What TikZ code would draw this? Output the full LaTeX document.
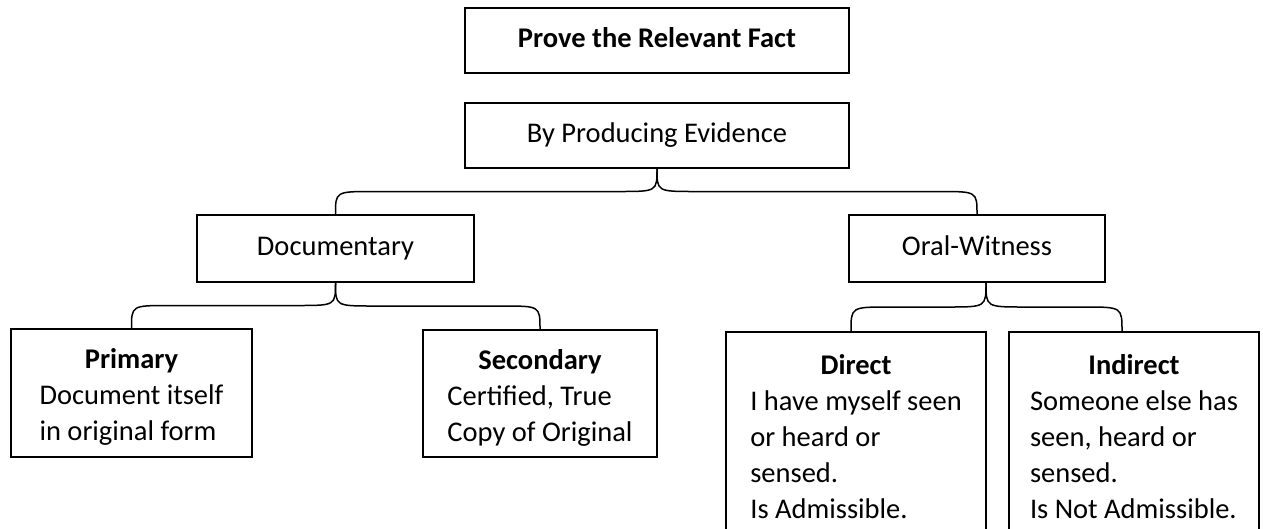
\documentclass[tikz,border=0pt]{standalone}
\usepackage{fontspec}
\setmainfont{Carlito}
\usetikzlibrary{calc}

\begin{document}
\begin{tikzpicture}[x=1pt, y=-1pt, line width=1.5pt,
    box/.style={draw, inner sep=0pt, font=\fontsize{28.5}{36}\selectfont},
    head/.style={box, text height=19pt, text depth=6pt},
    fork/.style={to path={let \p1=(\tikztostart), \p2=(\tikztotarget),
        \p3=($(\tikztostart)!.5!(\tikztotarget)$), \n1={38*sign(\x2-\x1)} in
        .. controls (\x1,\y3) .. ({\x1+\n1},\y3) -- ({\x2-\n1},\y3)
        .. controls (\x2,\y3) .. (\tikztotarget)}}]
  \clip (0,0) rectangle (1263,528);
  \node[head, minimum width=384, minimum height=65] (fact) at (657,40.5) {\bfseries Prove the Relevant Fact};
  \node[head, minimum width=384, minimum height=65] (evid) at (657,135.5) {By Producing Evidence};
  \node[head, minimum width=277, minimum height=67] (docu) at (335.5,248.5) {Documentary};
  \node[head, minimum width=256, minimum height=67] (oral) at (977,248.5) {Oral-Witness};
  \node[box, minimum width=241, minimum height=128] (prim) at (131.5,393) {%
    \raisebox{0pt}[\dimexpr\height+9pt][\depth]{\begin{tabular}{@{}l@{}}\multicolumn{1}{@{}c@{}}{\bfseries Primary}\\ Document itself\\ in original form\end{tabular}}};
  \node[box, minimum width=234, minimum height=127] (seco) at (540,393.5) {%
    \raisebox{0pt}[\dimexpr\height+9pt][\depth]{\begin{tabular}{@{}l@{}}\multicolumn{1}{@{}c@{}}{\bfseries Secondary}\\ Certified, True\\ Copy of Original\end{tabular}}};
  \node[box, minimum width=260, minimum height=208] (dire) at (856,436) {%
    \raisebox{0pt}[\dimexpr\height+6pt][\depth]{\begin{tabular}{@{}l@{}}\multicolumn{1}{@{}c@{}}{\bfseries Direct}\\ I have myself seen\\ or heard or\\ sensed.\\ Is Admissible.\end{tabular}}};
  \node[box, minimum width=250, minimum height=208] (indi) at (1134,436) {%
    \raisebox{0pt}[\dimexpr\height+6pt][\depth]{\begin{tabular}{@{}l@{}}\multicolumn{1}{@{}c@{}}{\bfseries Indirect}\\ Someone else has\\ seen, heard or\\ sensed.\\ Is Not Admissible.\end{tabular}}};
  % braces
  \path
    (evid.south) edge[fork] (docu.north) edge[fork] (oral.north)
    (docu.south) edge[fork] (prim.north) edge[fork] (seco.north)
    ($(oral.south)+(9,0)$) edge[fork] ($(dire.north)+(-5,0)$) edge[fork] ($(indi.north)+(-12,0)$);
\end{tikzpicture}
\end{document}
